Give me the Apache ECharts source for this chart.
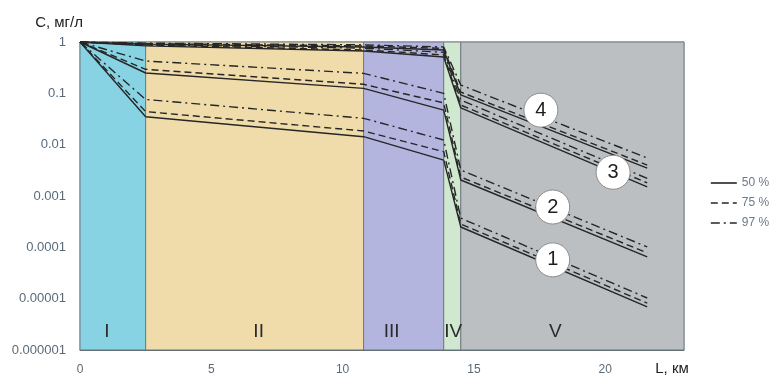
<!DOCTYPE html>
<html>
<head>
<meta charset="utf-8">
<script src="https://cdn.jsdelivr.net/npm/echarts@6/dist/echarts.min.js"></script>
<style>
  html, body { margin: 0; padding: 0; background: #ffffff; }
  #chart { width: 770px; height: 376px; }
</style>
</head>
<body>
<div id="chart"></div>
<script>
// Distance along the flow path, km (breakpoints of every concentration curve)
const distanceKm = [0, 2.5, 10.8, 13.85, 14.5, 21.6];

// Concentration C, mg/l, for four curves (1..4) at three probability levels
const curve1_50 = [1, 0.035, 0.0143, 0.005, 0.000249, 0.0000069];
const curve1_75 = [1, 0.044, 0.0185, 0.0073, 0.000285, 0.0000082];
const curve1_97 = [1, 0.076, 0.0326, 0.0123, 0.00037, 0.0000103];

const curve2_50 = [1, 0.249, 0.125, 0.047, 0.00205, 0.000065];
const curve2_75 = [1, 0.294, 0.15, 0.065, 0.00234, 0.000078];
const curve2_97 = [1, 0.426, 0.245, 0.10, 0.0032, 0.000102];

const curve3_50 = [1, 0.84, 0.67, 0.51, 0.052, 0.0015];
const curve3_75 = [1, 0.87, 0.70, 0.56, 0.059, 0.0018];
const curve3_97 = [1, 0.89, 0.76, 0.63, 0.074, 0.0022];

const curve4_50 = [1, 0.91, 0.80, 0.70, 0.093, 0.0035];
const curve4_75 = [1, 0.93, 0.84, 0.75, 0.106, 0.0040];
const curve4_97 = [1, 0.95, 0.88, 0.80, 0.145, 0.0055];

// Probability levels (legend)
const levelNames = ['50 %', '75 %', '97 %'];

// Zones along the path
const zoneNames = ['I', 'II', 'III', 'IV', 'V'];
const zoneStartKm = [0, 2.5, 10.8, 13.85, 14.5];
const zoneEndKm = [2.5, 10.8, 13.85, 14.5, 23];

// Curve number badges
const badgeText = ['1', '2', '3', '4'];
const badgeKm = [18.0, 18.0, 20.3, 17.55];
const badgeC = [0.000057, 0.00061, 0.0029, 0.047];

// Axis tick labels
const yTickLabels = ['0.000001', '0.00001', '0.0001', '0.001', '0.01', '0.1', '1'];
const xTicks = [0, 5, 10, 15, 20];

const curves = [
  [curve1_50, curve1_75, curve1_97],
  [curve2_50, curve2_75, curve2_97],
  [curve3_50, curve3_75, curve3_97],
  [curve4_50, curve4_75, curve4_97]
];

const zoneColors = ['#88d3e3', '#efdcaa', '#b4b5de', '#d0e8d0', '#bbbfc1'];
const zoneLabelShift = [-6, 4, -12, 1, -17];
const lineTypes = ['solid', [7, 4], [9, 4, 2, 4]];
const lineColor = '#262626';
const tickColor = '#5b6a78';

const series = [];

// Coloured zone bands
series.push({
  type: 'line',
  data: [],
  silent: true,
  z: 1,
  markArea: {
    silent: true,
    data: zoneNames.map((n, i) => [
      {
        name: n,
        xAxis: zoneStartKm[i],
        itemStyle: { color: zoneColors[i], borderColor: '#6e7b80', borderWidth: 1 },
        label: { offset: [zoneLabelShift[i], 0] }
      },
      { xAxis: zoneEndKm[i] }
    ]),
    label: {
      show: true,
      position: 'insideBottom',
      distance: 9,
      color: '#2a2a2a',
      fontSize: 19,
      fontFamily: 'Liberation Sans'
    }
  }
});

// Concentration curves
curves.forEach((group) => {
  group.forEach((values, k) => {
    series.push({
      name: levelNames[k],
      type: 'line',
      symbol: 'none',
      silent: true,
      z: 3,
      data: distanceKm.map((x, i) => [x, values[i]]),
      lineStyle: { color: lineColor, width: 1.4, type: lineTypes[k] },
      itemStyle: { color: lineColor }
    });
  });
});

// Numbered circles
series.push({
  type: 'scatter',
  silent: true,
  z: 5,
  symbol: 'circle',
  symbolSize: 34,
  data: badgeText.map((t, i) => ({ value: [badgeKm[i], badgeC[i]], name: t })),
  itemStyle: { color: '#ffffff', borderColor: '#8c8c8c', borderWidth: 1, opacity: 1 },
  label: {
    show: true,
    position: 'inside',
    formatter: (p) => p.name,
    color: '#1e1e1e',
    fontSize: 20,
    fontFamily: 'Liberation Sans'
  }
});

const chart = echarts.init(document.getElementById('chart'), null, { renderer: 'canvas' });
chart.setOption({
  animation: false,
  backgroundColor: '#ffffff',
  grid: {
    left: 80, top: 42, width: 604, height: 308,
    show: true, borderColor: '#8f999d', borderWidth: 1, backgroundColor: 'transparent'
  },
  legend: {
    orient: 'vertical',
    left: 705,
    top: 172,
    data: levelNames,
    itemWidth: 26,
    itemHeight: 14,
    itemGap: 8,
    selectedMode: false,
    itemStyle: { color: 'rgba(0,0,0,0)', borderColor: 'rgba(0,0,0,0)', borderWidth: 0 },
    lineStyle: { width: 1.6 },
    textStyle: { color: '#6b7a88', fontSize: 12, fontFamily: 'Liberation Sans' }
  },
  xAxis: {
    type: 'value',
    min: 0,
    max: 23,
    interval: 5,
    name: 'L, км',
    nameLocation: 'end',
    nameGap: -12,
    nameTextStyle: {
      color: '#222', fontSize: 15, fontFamily: 'Liberation Sans',
      align: 'center', verticalAlign: 'top', padding: [11, 0, 0, 0]
    },
    axisLine: { show: true, lineStyle: { color: '#56646a', width: 1 } },
    axisTick: { show: false },
    splitLine: { show: false },
    axisLabel: {
      margin: 14,
      color: tickColor,
      fontSize: 12,
      fontFamily: 'Liberation Sans',
      showMaxLabel: false,
      formatter: (v) => (xTicks.indexOf(v) >= 0 ? String(v) : '')
    }
  },
  yAxis: {
    type: 'log',
    logBase: 10,
    min: 0.000001,
    max: 1,
    name: 'C, мг/л',
    nameLocation: 'end',
    nameGap: 19,
    nameTextStyle: {
      color: '#222', fontSize: 15, fontFamily: 'Liberation Sans',
      align: 'right', verticalAlign: 'middle', padding: [0, -3, 0, 0]
    },
    axisLine: { show: true, lineStyle: { color: '#56646a', width: 1 } },
    axisTick: { show: false },
    splitLine: { show: false },
    axisLabel: {
      margin: 14,
      color: tickColor,
      fontSize: 13,
      fontFamily: 'Liberation Sans',
      formatter: (v) => yTickLabels[Math.round(Math.log10(v)) + 6]
    }
  },
  series: series
});
</script>
</body>
</html>
